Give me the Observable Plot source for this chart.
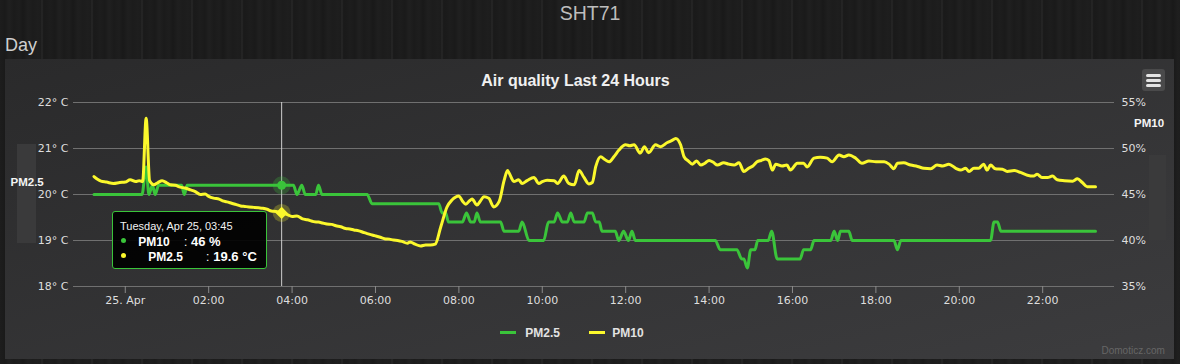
<!DOCTYPE html>
<html>
<head>
<meta charset="utf-8">
<script src="https://cdn.jsdelivr.net/npm/d3@7"></script>
<script src="https://cdn.jsdelivr.net/npm/@observablehq/plot@0.6"></script>
<style>
html, body { margin: 0; padding: 0; background: #1b1b1b; }
#page {
  position: relative; width: 1180px; height: 364px; overflow: hidden;
  font-family: "Liberation Sans", Arial, sans-serif;
  background:
    repeating-linear-gradient(90deg, rgba(255,255,255,0) 0px, rgba(255,255,255,0) 41px, rgba(255,255,255,0.07) 42px, rgba(255,255,255,0) 43px, rgba(255,255,255,0) 50px),
    repeating-linear-gradient(90deg, #1d1d1d 0px, #1a1a1a 5px, #202020 9px, #1b1b1b 14px, #1e1e1e 19px, #191919 23px, #1f1f1f 28px, #1c1c1c 33px, #1e1e1e 38px, #1a1a1a 45px, #1d1d1d 50px);
}
.abs { position: absolute; line-height: 1; white-space: nowrap; }
#header { left: 0; width: 1180px; text-align: center; top: 4px; font-size: 19.5px; color: #bdbdbd; }
#day { left: 5px; top: 35.5px; font-size: 18px; color: #cfcfcf; }
#panel { position: absolute; left: 5px; top: 59px; width: 1169px; height: 300px;
  background: linear-gradient(to bottom right, #2a2a2b, #3c3c3e); }
#title { left: 575.5px; transform: translateX(-50%); top: 72.5px; font-size: 16px; font-weight: bold; color: #f0f0f0; }
#menu { position: absolute; left: 1142px; top: 69px; width: 23px; height: 22px; background: #4a4a4b; border-radius: 3px; }
#menu span { position: absolute; left: 4px; width: 15px; height: 3px; border-radius: 1.5px; background: #e4e4e4; }
.band { position: absolute; background: #3a3a3b; }
.ylab { font-size: 11.5px; font-weight: bold; color: #f4f4f4; }
#chart { position: absolute; left: 0; top: 0; }
#tooltip { position: absolute; left: 112px; top: 211px; width: 153px; height: 56px;
  background: rgba(0,0,0,0.92); border: 1px solid #3ac43a; border-radius: 3px; color: #fff; }
#tooltip .t { position: absolute; line-height: 1; white-space: nowrap; }
#tooltip .dot { position: absolute; width: 5px; height: 5px; border-radius: 50%; }
.leg-sw { position: absolute; width: 16px; height: 3px; }
.leg-tx { font-size: 12px; font-weight: bold; color: #e2e2e2; }
#credit { left: 1101.5px; top: 345.5px; font-size: 10px; color: #666; }
</style>
</head>
<body>
<div id="page">
  <div id="header" class="abs">SHT71</div>
  <div id="day" class="abs">Day</div>
  <div id="panel"></div>
  <div id="title" class="abs">Air quality Last 24 Hours</div>
  <div id="menu"><span style="top:5px"></span><span style="top:10px"></span><span style="top:15px"></span></div>
  <div class="band" style="left:17px;top:144px;width:19px;height:99px"></div>
  <div class="abs ylab" style="left:10.5px;top:177px">PM2.5</div>
  <div class="band" style="left:1149px;top:155px;width:17px;height:85px"></div>
  <div class="abs ylab" style="left:1134px;top:118px">PM10</div>
  <div id="chart"></div>
  <div id="tooltip"></div>
  <div class="leg-sw" style="left:500px;top:331px;background:#3ac43a"></div>
  <div class="abs leg-tx" style="left:525.3px;top:326.8px">PM2.5</div>
  <div class="leg-sw" style="left:589px;top:331px;background:#fbf82c"></div>
  <div class="abs leg-tx" style="left:612.3px;top:326.8px">PM10</div>
  <div id="credit" class="abs">Domoticz.com</div>
</div>
<script>
// ---------- data ----------
const seriesNames = ["PM2.5", "PM10"];          // legend labels (green, yellow)
const tooltipNames = ["PM10", "PM2.5"];         // tooltip labels (green, yellow)

// left axis (°C) and right axis (%) tick labels
const tempTicks = [18, 19, 20, 21, 22];
const tempLabels = ["18° C", "19° C", "20° C", "21° C", "22° C"];
const humLabels = ["35%", "40%", "45%", "50%", "55%"];

// x axis ticks (Apr 25)
const xTickTimes = ["00:00","02:00","04:00","06:00","08:00","10:00","12:00","14:00","16:00","18:00","20:00","22:00"];
const xTickLabels = ["25. Apr","02:00","04:00","06:00","08:00","10:00","12:00","14:00","16:00","18:00","20:00","22:00"];

// green series (% , right axis) – starts Apr 24 23:15
const greenTimes = ["23:15","00:24","00:30","00:34","00:39","00:43","00:48","01:21","01:25","01:29","03:36","03:45","04:02","04:07","04:14","04:19","04:34","04:38","04:43","05:48","05:55","07:31","07:36","07:41","07:45","08:05","08:11","08:17","08:22","08:26","08:31","09:00","09:05","09:26","09:31","09:41","10:02","10:09","10:17","10:22","10:29","10:36","10:41","10:46","11:00","11:05","11:12","11:17","11:22","11:26","11:45","11:50","11:57","12:04","12:09","12:14","14:09","14:16","14:40","14:47","14:50","14:55","15:00","15:06","15:10","15:25","15:30","15:38","16:11","16:16","16:26","16:31","16:55","17:00","17:05","17:09","17:21","17:26","18:26","18:31","18:36","20:45","20:50","20:55","21:00","23:16"];
const greenValues = [45,45,48,45,46,45,46,46,45,46,46,46,46,45,46,45,45,46,45,45,44,44,43,43,42,42,43,42,42,43,42,42,41,41,42,40,40,42,42,43,42,42,43,42,42,43,43,42,42,41,41,40,41,40,41,40,40,39,39,38,38,37,39,39,40,40,41,38,38,39,39,40,40,41,40,41,41,40,40,39,40,40,42,42,41,41];

// yellow series (°C, left axis) – starts Apr 24 23:15
const yellowTimes = ["23:15","23:20","23:25","23:33","23:43","23:52","00:00","00:07","00:15","00:20","00:25","00:30","00:35","00:41","00:47","00:53","01:00","01:05","01:12","01:19","01:26","01:34","01:40","01:48","01:55","02:00","02:07","02:15","02:20","02:26","02:33","02:40","02:46","02:52","02:58","03:05","03:12","03:18","03:24","03:30","03:37","03:45","03:52","04:00","04:07","04:15","04:22","04:31","04:38","04:44","04:50","04:57","05:03","05:10","05:17","05:23","05:29","05:36","05:42","05:48","05:55","06:00","06:07","06:13","06:20","06:26","06:32","06:38","06:46","06:50","06:57","07:05","07:12","07:19","07:26","07:34","07:43","07:50","08:00","08:05","08:10","08:15","08:19","08:26","08:31","08:36","08:43","08:50","08:58","09:05","09:10","09:15","09:19","09:26","09:31","09:38","09:48","09:55","10:00","10:07","10:17","10:22","10:31","10:38","10:46","10:53","11:00","11:07","11:12","11:17","11:24","11:30","11:36","11:43","11:50","12:00","12:06","12:12","12:21","12:27","12:33","12:43","12:50","13:00","13:06","13:12","13:19","13:24","13:30","13:36","13:42","13:48","13:54","14:00","14:06","14:12","14:21","14:28","14:36","14:43","14:50","14:57","15:03","15:09","15:15","15:21","15:26","15:31","15:36","15:45","15:52","15:57","16:07","16:16","16:21","16:31","16:40","16:50","16:57","17:07","17:14","17:21","17:31","17:40","17:50","18:00","18:12","18:19","18:26","18:31","18:40","18:50","19:00","19:09","19:19","19:28","19:36","19:45","19:55","20:02","20:09","20:14","20:21","20:28","20:35","20:40","20:45","20:52","21:02","21:09","21:19","21:28","21:38","21:47","21:52","21:59","22:07","22:14","22:21","22:31","22:43","22:50","22:57","23:04","23:16"];
const yellowValues = [20.39,20.33,20.29,20.27,20.24,20.26,20.27,20.32,20.28,20.30,20.28,21.66,20.30,20.21,20.26,20.30,20.25,20.21,20.20,20.16,20.14,20.10,20.07,20.00,20.01,19.96,19.92,19.90,19.86,19.84,19.81,19.78,19.75,19.74,19.73,19.72,19.71,19.70,19.68,19.64,19.63,19.60,19.57,19.52,19.53,19.47,19.45,19.41,19.40,19.38,19.36,19.35,19.32,19.30,19.26,19.25,19.23,19.21,19.18,19.15,19.12,19.10,19.07,19.04,19.03,19.01,19.00,18.98,18.94,18.97,18.92,18.88,18.90,18.90,18.92,19.30,19.73,19.88,19.97,19.86,19.79,19.86,19.90,19.77,19.86,19.95,19.92,19.73,19.85,20.30,20.52,20.38,20.28,20.32,20.24,20.30,20.37,20.24,20.28,20.31,20.30,20.24,20.40,20.24,20.21,20.52,20.37,20.23,20.26,20.61,20.82,20.76,20.71,20.82,20.96,21.08,21.06,21.08,20.90,21.04,20.91,21.08,21.04,21.13,21.17,21.22,21.08,20.82,20.73,20.66,20.73,20.64,20.68,20.74,20.70,20.64,20.69,20.66,20.64,20.69,20.50,20.57,20.62,20.71,20.74,20.77,20.74,20.53,20.66,20.62,20.64,20.53,20.68,20.68,20.60,20.79,20.81,20.79,20.71,20.86,20.82,20.86,20.79,20.68,20.73,20.71,20.71,20.66,20.56,20.68,20.69,20.64,20.61,20.57,20.56,20.64,20.62,20.66,20.57,20.53,20.57,20.50,20.57,20.57,20.66,20.53,20.64,20.56,20.55,20.50,20.52,20.48,20.42,20.40,20.44,20.37,20.37,20.40,20.32,20.30,20.29,20.34,20.26,20.17,20.17];

const hoverTime = "03:45";
const colors = { green: "#3ac43a", yellow: "#fbf82c" };

// ---------- build ----------
function parseSeries(times, values) {
  let day = 24, prevH = -1;
  return times.map((t, i) => {
    const [h, m] = t.split(":").map(Number);
    if (h < prevH) day = 25;
    prevH = h;
    return { date: new Date(2017, 3, day, h, m), value: values[i] };
  });
}
const hm = t => t.split(":").map(Number);
const green = parseSeries(greenTimes, greenValues);
const yellow = parseSeries(yellowTimes, yellowValues);
const pctToTemp = p => 18 + (p - 35) / 5;   // right axis shares the grid with left axis

const xTicks = xTickTimes.map(t => { const [h, m] = hm(t); return new Date(2017, 3, 25, h, m); });
const [hh, hmn] = hm(hoverTime);
const hoverDate = new Date(2017, 3, 25, hh, hmn);
const gHover = green.find(d => +d.date === +hoverDate);
const yHover = yellow.find(d => +d.date === +hoverDate);

const chart = Plot.plot({
  width: 1180, height: 364,
  marginLeft: 73, marginRight: 66, marginTop: 102, marginBottom: 78,
  style: { background: "transparent", fontFamily: "DejaVu Sans, sans-serif", fontSize: "11px", color: "#dedede", overflow: "visible" },
  x: { type: "time", domain: [new Date(2017, 3, 24, 22, 45, 30), new Date(2017, 3, 25, 23, 43, 20)] },
  y: { domain: [18, 22] },
  marks: [
    Plot.gridY(tempTicks, { stroke: "#707070", strokeOpacity: 1 }),
    Plot.axisY(tempTicks, { anchor: "left", label: null, tickSize: 0, tickPadding: 5, tickFormat: d => tempLabels[tempTicks.indexOf(d)] }),
    Plot.axisY(tempTicks, { anchor: "right", label: null, tickSize: 0, tickPadding: 7, tickFormat: d => humLabels[tempTicks.indexOf(d)] }),
    Plot.axisX(xTicks, { anchor: "bottom", label: null, tickSize: 7, tickPadding: 3, stroke: "#8a8a8a", tickFormat: d => xTickLabels[xTicks.findIndex(t => +t === +d)] }),
    Plot.ruleX([hoverDate], { stroke: "#cfcfcf", strokeWidth: 1 }),
    Plot.line(green, { x: "date", y: d => pctToTemp(d.value), stroke: colors.green, strokeWidth: 3, curve: "monotone-x" }),
    Plot.line(yellow, { x: "date", y: "value", stroke: colors.yellow, strokeWidth: 3, curve: "monotone-x" }),
    Plot.dot([gHover], { x: "date", y: d => pctToTemp(d.value), r: 9, fill: colors.green, fillOpacity: 0.25 }),
    Plot.dot([gHover], { x: "date", y: d => pctToTemp(d.value), r: 4.5, fill: colors.green }),
    Plot.dot([yHover], { x: "date", y: "value", r: 9, fill: colors.yellow, fillOpacity: 0.25 }),
    Plot.dot([yHover], { x: "date", y: "value", r: 5.5, symbol: "diamond2", fill: colors.yellow, stroke: null })
  ]
});
document.getElementById("chart").appendChild(chart);

// tooltip (real text)
const tip = document.getElementById("tooltip");
const fmt = d3.timeFormat("%A, %b %d, %H:%M");
tip.innerHTML = `
  <span class="t" style="left:7px;top:9.4px;font-size:11px;color:#f2f2f2">${fmt(hoverDate)}</span>
  <span class="dot" style="left:7.8px;top:26.2px;background:${colors.green}"></span>
  <span class="t" style="left:25.3px;top:24.3px;font-size:12px;font-weight:bold">${tooltipNames[0]}</span>
  <span class="t" style="left:71px;top:24.3px;font-size:12px">:</span>
  <span class="t" style="left:78px;top:23px;font-size:13px;font-weight:bold">${gHover.value} %</span>
  <span class="dot" style="left:7.8px;top:41.2px;background:${colors.yellow}"></span>
  <span class="t" style="left:35.3px;top:38.5px;font-size:12px;font-weight:bold">${tooltipNames[1]}</span>
  <span class="t" style="left:93px;top:38.5px;font-size:12px">:</span>
  <span class="t" style="left:100.3px;top:37.7px;font-size:13px;font-weight:bold">${yHover.value.toFixed(1)} °C</span>`;
</script>
</body>
</html>
